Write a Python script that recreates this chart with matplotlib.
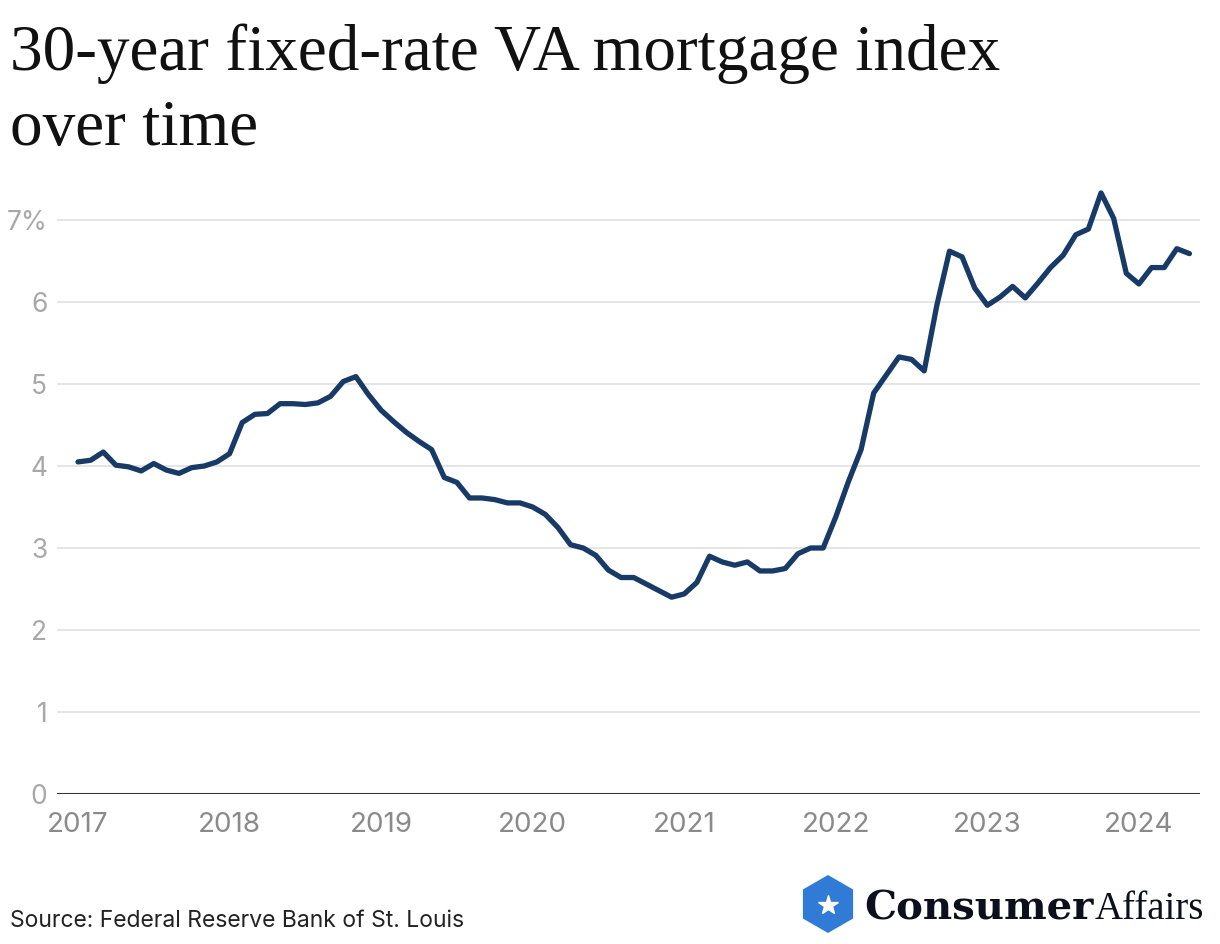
import matplotlib
matplotlib.use("Agg")
import matplotlib.pyplot as plt
from matplotlib.patches import RegularPolygon
import numpy as np

# Monthly index values, Jan 2017 - May 2024 (percent)
rates_2017 = [4.05, 4.07, 4.17, 4.01, 3.99, 3.94, 4.03, 3.95, 3.91, 3.98, 4.00, 4.05]
rates_2018 = [4.15, 4.53, 4.63, 4.64, 4.76, 4.76, 4.75, 4.77, 4.85, 5.03, 5.09, 4.87]
rates_2019 = [4.68, 4.54, 4.41, 4.30, 4.20, 3.86, 3.80, 3.61, 3.61, 3.59, 3.55, 3.55]
rates_2020 = [3.50, 3.41, 3.25, 3.04, 3.00, 2.91, 2.73, 2.64, 2.64, 2.56, 2.48, 2.40]
rates_2021 = [2.44, 2.58, 2.90, 2.83, 2.79, 2.83, 2.72, 2.72, 2.75, 2.93, 3.00, 3.00]
rates_2022 = [3.38, 3.81, 4.20, 4.89, 5.11, 5.33, 5.30, 5.16, 5.96, 6.62, 6.55, 6.17]
rates_2023 = [5.96, 6.06, 6.19, 6.05, 6.23, 6.42, 6.57, 6.82, 6.89, 7.33, 7.02, 6.35]
rates_2024 = [6.22, 6.42, 6.42, 6.65, 6.59]

year_labels = ["2017", "2018", "2019", "2020", "2021", "2022", "2023", "2024"]
y_ticks = [0, 1, 2, 3, 4, 5, 6, 7]
y_tick_labels = ["0", "1", "2", "3", "4", "5", "6", "7%"]

rates = (rates_2017 + rates_2018 + rates_2019 + rates_2020 + rates_2021
         + rates_2022 + rates_2023 + rates_2024)
months = np.arange(len(rates))

W, H = 1220, 944
fig = plt.figure(figsize=(W / 100, H / 100), dpi=100)
fig.patch.set_facecolor("white")

# axes placement (pixels)
left_px, right_px = 57, 1200
bottom_px = 794
ymax = 7.5
px_per_unit = 82
top_px = bottom_px - ymax * px_per_unit
ax = fig.add_axes([left_px / W, 1 - bottom_px / H,
                   (right_px - left_px) / W, (bottom_px - top_px) / H])

px_per_month = 12.63
x0_px = 78
ax.set_xlim(-(x0_px - left_px) / px_per_month, (right_px - x0_px) / px_per_month)
ax.set_ylim(0, ymax)

for yv in y_ticks[1:]:
    ax.axhline(yv, color="#e3e3e3", lw=1.3, zorder=1)
ax.axhline(0, color="#333333", lw=2.2, zorder=3)

ax.plot(months, rates, color="#173a67", lw=3.8, solid_joinstyle="round",
        solid_capstyle="round", zorder=4)

for s in ax.spines.values():
    s.set_visible(False)
ax.set_xticks([12 * i for i in range(len(year_labels))])
ax.set_xticklabels(year_labels, fontsize=20, color="#8a8a8a", family="Inter")
ax.set_yticks(y_ticks)
ax.set_yticklabels(y_tick_labels, fontsize=19, color="#a8a8a8", family="Inter")
ax.tick_params(axis="both", length=0)
ax.tick_params(axis="x", pad=13)
ax.tick_params(axis="y", pad=7)

# Title (two lines)
fig.text(10 / W, 1 - 70 / H, "30-year fixed-rate VA mortgage index",
         fontsize=47, family="Liberation Serif", color="#111111",
         va="baseline", ha="left")
fig.text(10 / W, 1 - 145 / H, "over time",
         fontsize=47, family="Liberation Serif", color="#111111",
         va="baseline", ha="left")

# Source
fig.text(10 / W, 1 - 927 / H, "Source: Federal Reserve Bank of St. Louis",
         fontsize=16.5, family="Inter", color="#222222", ha="left", va="baseline")

# Logo
hex_ax = fig.add_axes([0, 0, 1, 1], facecolor="none")
hex_ax.set_xlim(0, W)
hex_ax.set_ylim(H, 0)
hex_ax.axis("off")
hexagon = RegularPolygon((828, 904), numVertices=6, radius=29, orientation=0,
                         facecolor="#2f7bd6", edgecolor="none")
hex_ax.add_patch(hexagon)
hex_ax.plot([828], [905], marker="*", color="white", markersize=15)
t1 = hex_ax.text(864, 919, "Consumer", fontsize=29, family="DejaVu Serif",
                 weight="heavy", color="#0c0f1c", ha="left", va="baseline")
fig.canvas.draw()
bb = t1.get_window_extent(fig.canvas.get_renderer())
x_aff = bb.x1 + 1
hex_ax.text(x_aff, 919, "Affairs", fontsize=28, family="Liberation Serif",
            color="#0c0f1c", ha="left", va="baseline")

fig.savefig("out.png", dpi=100, facecolor="white")
